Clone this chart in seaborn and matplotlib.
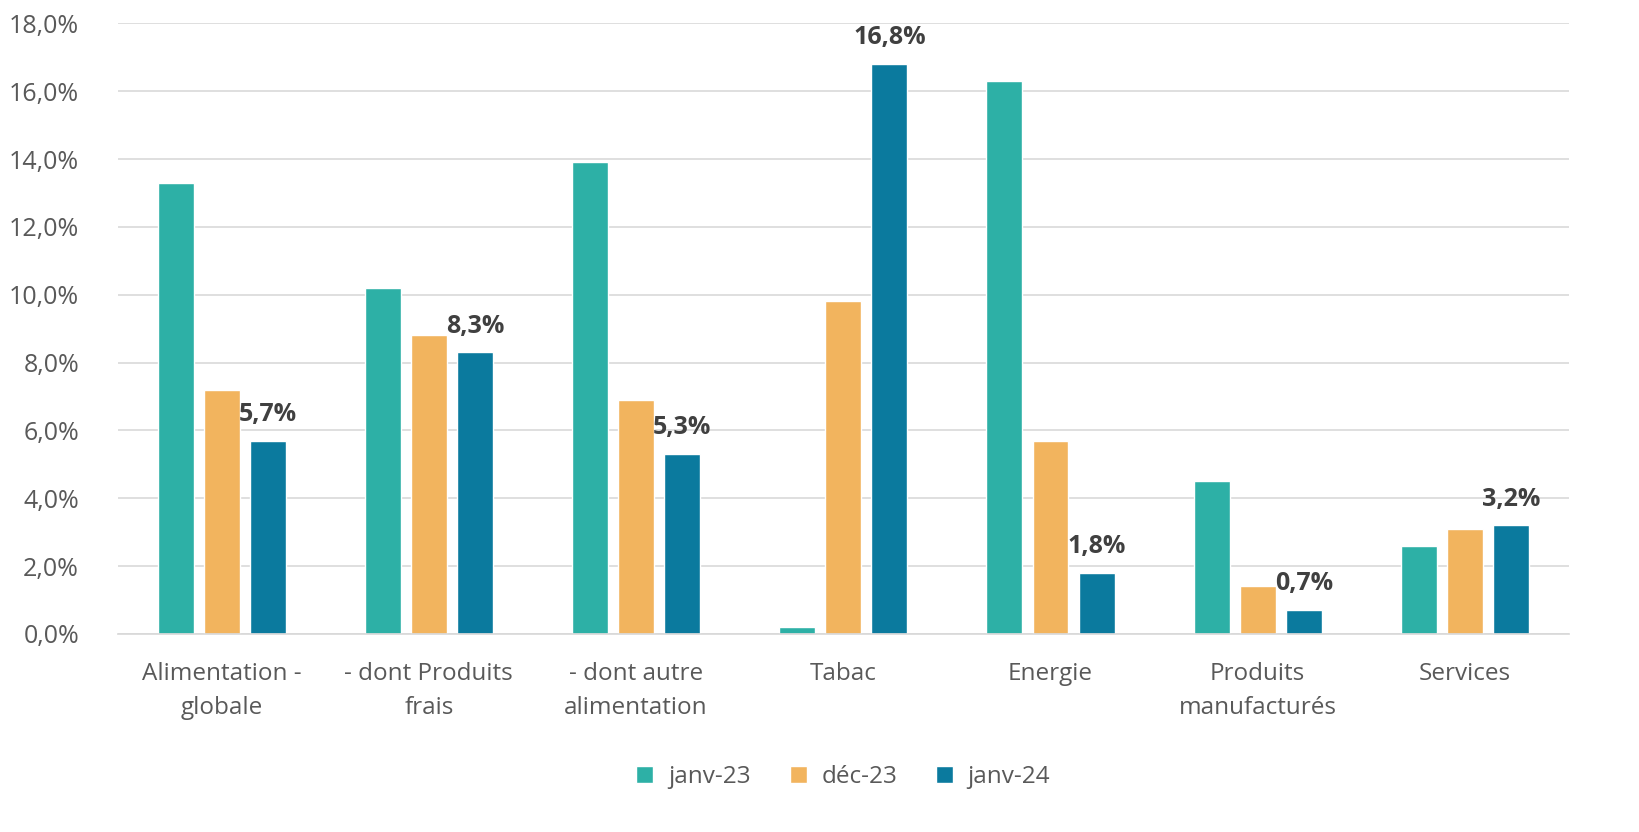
import matplotlib
matplotlib.use("Agg")
import matplotlib.pyplot as plt
import seaborn as sns
import pandas as pd
from matplotlib.ticker import FuncFormatter

categories = ["Alimentation -\nglobale", "- dont Produits\nfrais", "- dont autre\nalimentation",
              "Tabac", "Energie", "Produits\nmanufacturés", "Services"]
series = ["janv-23", "déc-23", "janv-24"]
janv23 = [13.3, 10.2, 13.9, 0.2, 16.3, 4.5, 2.6]
dec23 = [7.2, 8.8, 6.9, 9.8, 5.7, 1.4, 3.1]
janv24 = [5.7, 8.3, 5.3, 16.8, 1.8, 0.7, 3.2]
colors = ["#2DB0A6", "#F2B45E", "#0B7A9E"]

df = pd.DataFrame({
    "cat": categories * 3,
    "serie": [s for s in series for _ in categories],
    "val": janv23 + dec23 + janv24,
})

sns.set_theme(style="white")
plt.rcParams["font.family"] = ["Open Sans", "DejaVu Sans"]
txt = "#595959"

fig = plt.figure(figsize=(16.39, 8.32), dpi=100)
ax = fig.add_axes([0.072, 0.238, 0.885, 0.734])

sns.barplot(data=df, x="cat", y="val", hue="serie", palette=colors,
            width=0.667, gap=0.22, ax=ax, saturation=1)

ax.set_ylim(0, 18)
ax.set_yticks(range(0, 19, 2))
ax.yaxis.set_major_formatter(FuncFormatter(lambda v, p: f"{v:.1f}%".replace(".", ",")))
ax.grid(axis="y", color="#D9D9D9", linewidth=1.2)
ax.set_axisbelow(True)
for s in ["top", "right", "left"]:
    ax.spines[s].set_visible(False)
ax.spines["bottom"].set_color("#D9D9D9")
ax.tick_params(axis="y", labelsize=18, colors=txt, length=0, pad=28)
ax.tick_params(axis="x", labelsize=17.5, colors=txt, length=0, pad=20)
for lab in ax.get_xticklabels():
    lab.set_linespacing(1.55)
ax.set_xlabel("")
ax.set_ylabel("")

# labels on janv-24 bars
last = ax.containers[2]
ax.bar_label(last, labels=[f"{v:.1f}%".replace(".", ",") for v in janv24],
             fontsize=18, fontweight="bold", color="#404040", padding=10)

leg = ax.legend(loc="center", bbox_to_anchor=(0.5, -0.235), ncol=3, frameon=False,
                fontsize=17.5, handlelength=0.7, handleheight=0.7, columnspacing=1.6,
                handletextpad=0.6)
for t in leg.get_texts():
    t.set_color(txt)

fig.savefig("out.png", dpi=100)
